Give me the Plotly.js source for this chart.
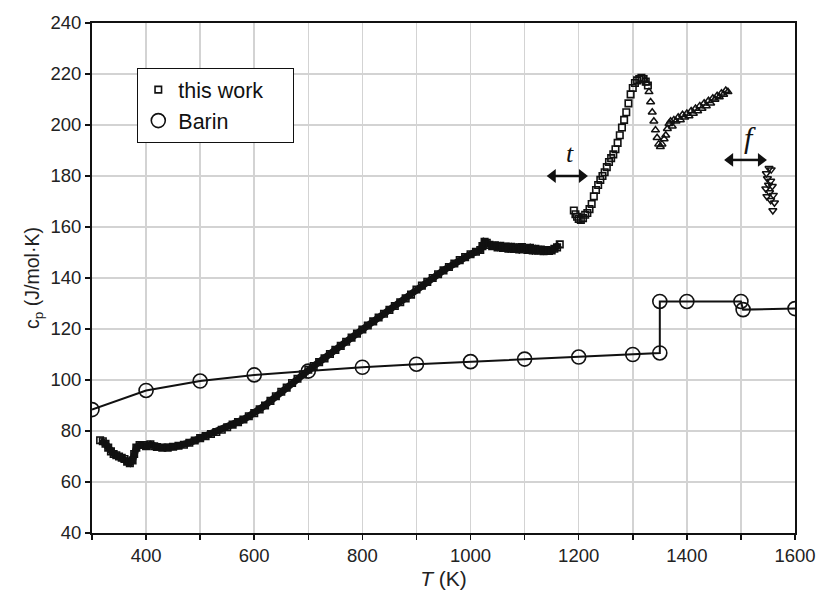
<!DOCTYPE html>
<html>
<head>
<meta charset="utf-8">
<script src="https://cdn.plot.ly/plotly-3.0.1.min.js"></script>
<style>html,body{margin:0;padding:0;background:#fff;}#chart{width:819px;height:595px;}</style>
</head>
<body>
<div id="chart"></div>
<script>
// "this work" – solid phase, low temperature part (squares)
var workT1 = [315,320,325,330,335,340,345,350,355,360,365,370,375,378,382,388,395,400,408,415,420,430,440,450,460,470,480,490,500,510,520,530,540,550,560,570,580,590,600,610,620,630,640,650,660,670,680,690,700,710,720,730,740,750,760,770,780,790,800,810,820,830,840,850,860,870,880,890,900,910,920,930,940,950,960,970,980,990,1000,1010,1018,1022,1026,1030,1035,1040,1045,1050,1055,1060,1065,1070,1075,1080,1085,1090,1095,1100,1105,1110,1115,1120,1125,1130,1135,1140,1145,1150,1155,1160,1165];
var workCp1 = [76.4,76,75,73.5,72,71,70.5,70,69.5,69,68,67.4,68.5,71,73.5,74.5,74.5,74,74.8,74,73.7,73.5,73.5,73.8,74.2,74.6,75.4,76.3,77.2,78,78.8,79.6,80.5,81.5,82.5,83.5,84.5,85.8,87,88.5,90,91.8,93.6,95.4,97,98.8,100.5,102.2,104,105.5,107,108.5,110.2,111.8,113.4,115,116.6,118.2,119.8,121.4,123,124.5,126,127.5,129,130.5,132,133.5,135.5,137,138.5,140,141.5,143,144.3,145.7,147,148.2,149.3,150.3,151,152.5,154.2,153.8,153,152.5,152.8,152,152.6,151.8,152.3,151.5,152.2,151.4,152,151.2,152.1,151.5,151,151.8,150.8,151.5,150.7,151.2,150.5,151,150.6,150.8,151.5,152,153.2];
// "this work" – above transition t (squares)
var workT2 = [1191,1194,1197,1200,1204,1208,1212,1216,1220,1224,1228,1232,1236,1240,1244,1248,1252,1256,1260,1264,1268,1272,1276,1280,1284,1288,1292,1296,1300,1304,1308,1312,1316,1320,1324,1328];
var workCp2 = [166.5,165,164,163.2,162.8,163.5,164.8,165.5,167,169,172,174.5,176.5,178.5,180,181.5,183.5,185.5,187,188.5,190.5,193,196,199,202,205,208.5,212,214.5,216.5,217.5,218,218.5,218,217,215.5];
// "this work" – triangles (up)
var workT3 = [1322,1326,1330,1333,1336,1339,1342,1345,1348,1351,1354,1358,1361,1364,1367,1370,1373,1376,1380,1384,1388,1392,1396,1400,1404,1408,1412,1416,1420,1424,1428,1432,1436,1440,1444,1448,1452,1456,1460,1464,1468,1472,1476];
var workCp3 = [217.5,216.5,213,209,205,201.5,198,195,192.5,191.5,192.5,194.5,196,198.5,200.5,201.5,199.5,202,201.5,203,202,204,203,204.5,203.5,205.5,204.5,206.5,205.5,207.5,206.5,208.5,207.5,209.5,208.5,210.5,210,211.5,211,212.5,212,213.5,213];
// "this work" – liquid (triangles down)
var workT4 = [1547,1552,1556,1549,1555,1551,1546,1558,1553,1548,1560,1555,1562,1559];
var workCp4 = [181,183,182.5,179,178,176.5,175,176,173.5,172,172.5,170.5,169.5,166.5];
// Barin
var barinT = [300,400,500,600,700,800,900,1000,1100,1200,1300,1350,1350,1400,1500,1504,1600];
var barinCp = [88.4,95.9,99.6,102,103.5,105,106.2,107.2,108.2,109,110,110.6,130.8,130.8,130.8,127.6,128];
// transition arrows (t and f), in data units (centres of the heads)
var arrowTx = [1152,1206], arrowTy = [180,180];
var arrowFx = [1480,1537], arrowFy = [186.3,186.3];

var sq = {symbol:'square-open', size:6.5, color:'#111', line:{width:1.6,color:'#111'}};
var tri = function(s){return {symbol:s, size:7, color:'#111', line:{width:1.5,color:'#111'}};};
var arrowTrace = function(xs, ys){
  return {x:xs, y:ys, mode:'lines+markers', line:{color:'#111', width:2.5}, showlegend:false, hoverinfo:'skip',
          marker:{symbol:['triangle-left','triangle-right'], size:12, color:'#111'}};
};
var traces = [
  {x:workT1, y:workCp1, mode:'lines', line:{color:'#111', width:7}, showlegend:false, hoverinfo:'skip'},
  {x:workT1, y:workCp1, mode:'markers', name:'this work\u00a0\u00a0\u00a0\u00a0', marker:sq, legendgroup:'w'},
  {x:workT2, y:workCp2, mode:'markers', marker:sq, showlegend:false, legendgroup:'w'},
  {x:workT3, y:workCp3, mode:'markers', marker:tri('triangle-up-open'), showlegend:false, legendgroup:'w'},
  {x:workT4, y:workCp4, mode:'markers', marker:tri('triangle-down-open'), showlegend:false, legendgroup:'w'},
  {x:barinT, y:barinCp, mode:'lines', line:{color:'#111', width:2}, showlegend:false, hoverinfo:'skip'},
  {x:barinT, y:barinCp, mode:'markers', name:'Barin',
   marker:{symbol:'circle-open', size:14, color:'#111', line:{width:1.6,color:'#111'}}},
  arrowTrace(arrowTx, arrowTy),
  arrowTrace(arrowFx, arrowFy)
];

var fam = 'Liberation Sans, Arial, sans-serif';
var fontTick = {family:fam, size:18.5, color:'#222'};
var grid = '#d3d3d3';
var layout = {
  width:819, height:595,
  margin:{l:92, r:24, t:23, b:62},
  paper_bgcolor:'#fff', plot_bgcolor:'#fff',
  showlegend:true,
  legend:{x:0.064, y:0.912, xanchor:'left', yanchor:'top', bgcolor:'#fff', bordercolor:'#111', borderwidth:1.3,
          font:{family:fam, size:21.5, color:'#111'}, tracegroupgap:0, itemwidth:30},
  xaxis:{range:[300,1600], tick0:0, dtick:200,
         showgrid:true, gridcolor:grid, gridwidth:1.5, zeroline:false,
         showline:true, linecolor:'#111', linewidth:2, mirror:true,
         ticks:'outside', ticklen:5, tickcolor:'#111', tickwidth:1.5, tickfont:fontTick,
         minor:{dtick:100, tick0:0, ticks:'outside', ticklen:5, tickcolor:'#111', tickwidth:1.5, showgrid:true, gridcolor:grid, gridwidth:1.5},
         title:{text:'<i>T</i> (K)', font:{family:fam, size:21, color:'#222'}, standoff:6}},
  yaxis:{range:[40,240], dtick:20, tick0:40,
         showgrid:true, gridcolor:grid, gridwidth:1.5, zeroline:false,
         showline:true, linecolor:'#111', linewidth:2, mirror:true,
         ticks:'outside', ticklen:5, tickcolor:'#111', tickwidth:1.5, tickfont:fontTick,
         title:{text:'c<sub>p</sub> (J/mol·K)', font:{family:fam, size:19.5, color:'#222'}, standoff:6}},
  annotations:[
    {x:1184, y:189, xref:'x', yref:'y', text:'<i>t</i>', showarrow:false,
     font:{family:'Liberation Serif, Times New Roman, serif', size:26, color:'#111'}},
    {x:1516, y:195, xref:'x', yref:'y', text:'<i>f</i>', showarrow:false,
     font:{family:'Liberation Serif, Times New Roman, serif', size:30, color:'#111'}}
  ]
};
Plotly.newPlot('chart', traces, layout, {displayModeBar:false, staticPlot:true});
</script>
</body>
</html>
